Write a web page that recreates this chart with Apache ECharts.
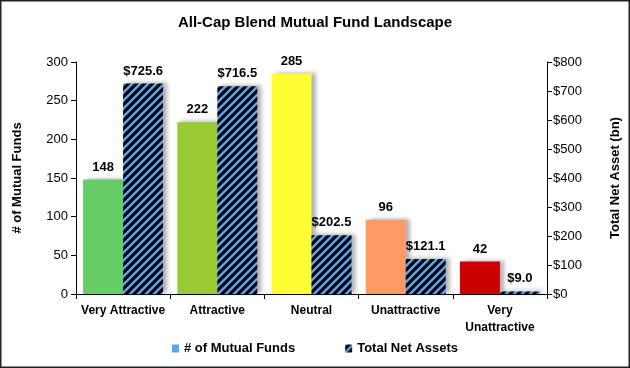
<!DOCTYPE html>
<html>
<head>
<meta charset="utf-8">
<script src="https://cdn.jsdelivr.net/npm/echarts@6/dist/echarts.min.js"></script>
<style>
html,body{margin:0;padding:0;background:#fff;}
#chart{width:630px;height:368px;}
</style>
</head>
<body>
<div id="chart"></div>
<script>
const categories = ['Very Attractive', 'Attractive', 'Neutral', 'Unattractive', 'Very\nUnattractive'];
const fundCounts = [148, 222, 285, 96, 42];
const netAssets = [725.6, 716.5, 202.5, 121.1, 9.0];
const barColors = ['#66CC66', '#99CC33', '#FFFF33', '#FF9966', '#CC0000'];
const leftTicks = { min: 0, max: 300, interval: 50 };
const rightTicks = { min: 0, max: 800, interval: 100 };

function makeHatch() {
  const s = 8;
  const c = document.createElement('canvas');
  c.width = s; c.height = s;
  const g = c.getContext('2d');
  g.fillStyle = '#000';
  g.fillRect(0, 0, s, s);
  g.strokeStyle = '#5BA3F0';
  g.lineWidth = 2.6;
  g.beginPath();
  g.moveTo(-2, s + 2); g.lineTo(s + 2, -2);
  g.moveTo(-2, 2); g.lineTo(2, -2);
  g.moveTo(s - 2, s + 2); g.lineTo(s + 2, s - 2);
  g.stroke();
  return c;
}
const hatch = { image: makeHatch(), repeat: 'repeat' };

const chart = echarts.init(document.getElementById('chart'), null, { renderer: 'canvas' });
const font = 'Liberation Sans, Arial, sans-serif';
const shadow = { shadowColor: 'rgba(0,0,0,0.3)', shadowBlur: 4, shadowOffsetX: 4, shadowOffsetY: -1 };

chart.setOption({
  animation: false,
  textStyle: { fontFamily: font, color: '#000' },
  title: {
    text: 'All-Cap Blend Mutual Fund Landscape',
    left: 'center', top: 10,
    textStyle: { fontFamily: font, fontSize: 15, fontWeight: 'bold', color: '#000' }
  },
  graphic: [{
    type: 'rect', silent: true,
    shape: { x: 0.75, y: 0.75, width: 628.5, height: 366.5 },
    style: { fill: 'none', stroke: '#222', lineWidth: 1.5 }
  }],
  legend: {
    bottom: 8, left: 'center', itemGap: 50, itemWidth: 7, itemHeight: 8,
    icon: 'rect',
    textStyle: { fontFamily: font, fontSize: 13, fontWeight: 'bold', color: '#000' },
    data: ['# of Mutual Funds', 'Total Net Assets']
  },
  grid: { left: 76, right: 82, top: 62, bottom: 74 },
  xAxis: {
    type: 'category', data: categories,
    axisLine: { lineStyle: { color: '#000' } },
    axisTick: { show: true, length: 5, lineStyle: { color: '#000' } },
    axisLabel: { interval: 0, fontFamily: font, fontSize: 12, fontWeight: 'bold', color: '#000', margin: 8, lineHeight: 17 }
  },
  yAxis: [{
    type: 'value', min: leftTicks.min, max: leftTicks.max, interval: leftTicks.interval,
    name: '# of Mutual Funds', nameLocation: 'middle', nameGap: 52,
    nameTextStyle: { fontFamily: font, fontSize: 13, fontWeight: 'bold', color: '#000' },
    axisLine: { show: true, lineStyle: { color: '#000' } },
    axisTick: { show: true, length: 5, lineStyle: { color: '#000' } },
    splitLine: { show: false },
    axisLabel: { fontFamily: font, fontSize: 13, color: '#000', margin: 8 }
  }, {
    type: 'value', min: rightTicks.min, max: rightTicks.max, interval: rightTicks.interval,
    name: 'Total Net Asset (bn)', nameLocation: 'middle', nameGap: 62,
    nameTextStyle: { fontFamily: font, fontSize: 13, fontWeight: 'bold', color: '#000' },
    axisLine: { show: true, lineStyle: { color: '#000' } },
    axisTick: { show: true, length: 5, lineStyle: { color: '#000' } },
    splitLine: { show: false },
    axisLabel: { fontFamily: font, fontSize: 13, color: '#000', margin: 6, formatter: v => '$' + v }
  }],
  series: [{
    name: '# of Mutual Funds', type: 'bar', yAxisIndex: 0,
    barWidth: 40, barGap: '0%',
    itemStyle: Object.assign({ color: '#5BA3F0' }, shadow),
    data: fundCounts.map((v, i) => ({ value: v, itemStyle: { color: barColors[i] } })),
    label: { show: true, position: 'top', distance: 6, fontFamily: font, fontSize: 13, fontWeight: 'bold', color: '#000' }
  }, {
    name: 'Total Net Assets', type: 'bar', yAxisIndex: 1,
    barWidth: 40, barGap: '0%',
    itemStyle: Object.assign({ color: hatch }, shadow),
    data: netAssets,
    label: { show: true, position: 'top', distance: 6, fontFamily: font, fontSize: 13, fontWeight: 'bold', color: '#000',
      formatter: p => '$' + p.value.toFixed(1) }
  }]
});
</script>
</body>
</html>
